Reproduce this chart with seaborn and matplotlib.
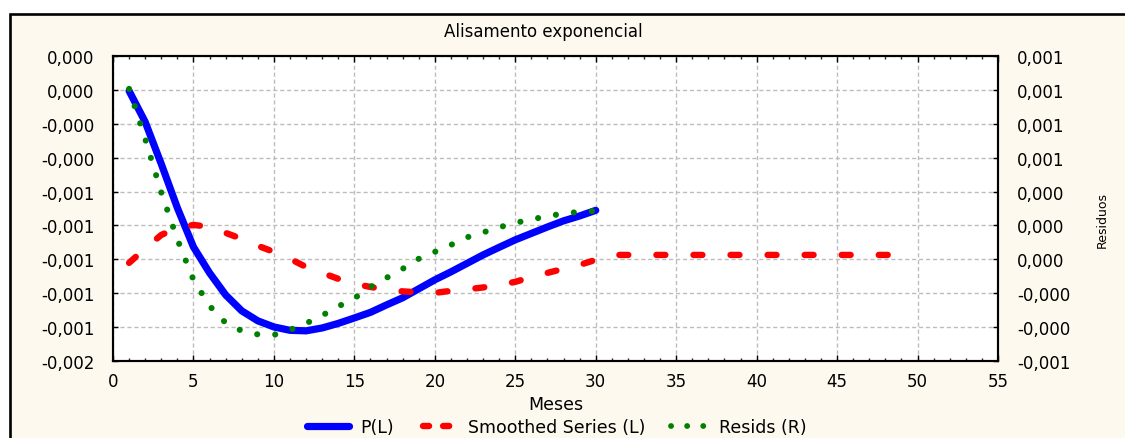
import matplotlib
matplotlib.use("Agg")
import matplotlib.pyplot as plt
import numpy as np
import pandas as pd
import seaborn as sns
from matplotlib.patches import Rectangle
from matplotlib.lines import Line2D
from matplotlib.ticker import MultipleLocator

# ---------------- data (values in units of 1e-4) ----------------
UNIT = 1e-4

months = list(range(1, 31))
p_l = [-0.06, -1.89, -4.37, -6.96, -9.27, -10.80, -12.10, -13.04, -13.63, -13.99,
       -14.19, -14.22, -14.05, -13.78, -13.46, -13.13, -12.69, -12.27, -11.74, -11.21,
       -10.74, -10.24, -9.74, -9.29, -8.85, -8.47, -8.09, -7.73, -7.44, -7.11]

smooth_months = list(range(1, 50))
smoothed = [-10.21, -9.35, -8.56, -8.14, -7.97, -8.08, -8.44, -8.79, -9.20, -9.56,
            -9.97, -10.45, -10.80, -11.15, -11.45, -11.63, -11.80, -11.89, -11.95, -11.98,
            -11.86, -11.77, -11.66, -11.51, -11.33, -11.04, -10.80, -10.56, -10.33, -10.03,
            -9.74, -9.74, -9.74, -9.74, -9.74, -9.74, -9.74, -9.74, -9.74, -9.74,
            -9.74, -9.74, -9.74, -9.74, -9.74, -9.74, -9.74, -9.74, -9.74]

resid_months = list(range(1, 31))
resids = [10.06, 7.11, 3.95, 1.18, -1.21, -2.75, -3.75, -4.22, -4.43, -4.46,
          -4.16, -3.78, -3.31, -2.78, -2.30, -1.63, -1.09, -0.56, 0.03, 0.44,
          0.85, 1.30, 1.59, 1.89, 2.15, 2.36, 2.54, 2.71, 2.80, 2.86]

title = "Alisamento exponencial"
x_label = "Meses"
right_label = "Residuos"
series_labels = ["P(L)", "Smoothed Series (L)", "Resids (R)"]

x_ticks = [0, 5, 10, 15, 20, 25, 30, 35, 40, 45, 50, 55]
left_ticks = [0.0002, 0.0, -0.0002, -0.0004, -0.0006, -0.0008, -0.0010, -0.0012, -0.0014, -0.0016]
left_tick_labels = ["0,000", "0,000", "-0,000", "-0,000", "-0,001", "-0,001", "-0,001", "-0,001", "-0,001", "-0,002"]
right_ticks = [0.0012, 0.0010, 0.0008, 0.0006, 0.0004, 0.0002, 0.0, -0.0002, -0.0004, -0.0006]
right_tick_labels = ["0,001", "0,001", "0,001", "0,001", "0,000", "0,000", "0,000", "-0,000", "-0,000", "-0,001"]

df_p = pd.DataFrame({"Mes": months, "valor": np.array(p_l) * UNIT})
df_s = pd.DataFrame({"Mes": smooth_months, "valor": np.array(smoothed) * UNIT})
df_r = pd.DataFrame({"Mes": resid_months, "valor": np.array(resids) * UNIT})

# ---------------- styling ----------------
sns.set_style("white")
plt.rcParams["font.family"] = ["DejaVu Sans"]
plt.rcParams["text.color"] = "black"
plt.rcParams["axes.labelcolor"] = "black"

W, H = 1125, 439
BLUE, RED, GREEN = "#0000FF", "#FF0000", "#008000"
CREAM = "#FEF9EE"

fig = plt.figure(figsize=(W / 100, H / 100), dpi=100)
fig.patch.set_facecolor("white")
top_frame = 1 - 15 / H
fig.add_artist(Rectangle((10 / W, -0.2), 1.2, top_frame + 0.2, transform=fig.transFigure,
                         facecolor=CREAM, edgecolor="black", linewidth=1.9, zorder=-5))

ax = fig.add_axes([113 / W, 1 - 362 / H, (998 - 113) / W, 305 / H])
ax.set_facecolor("white")
ax2 = ax.twinx()

# lines
sns.lineplot(data=df_p, x="Mes", y="valor", ax=ax, color=BLUE, linewidth=5.2, legend=False)
l_blue = ax.lines[-1]
l_blue.set_solid_capstyle("round")
l_blue.set_solid_joinstyle("round")

sns.lineplot(data=df_s, x="Mes", y="valor", ax=ax, color=RED, linewidth=4.6, legend=False)
l_red = ax.lines[-1]
l_red.set_linestyle((0, (1.4, 4.4)))
l_red.set_dash_capstyle("round")

sns.lineplot(data=df_r, x="Mes", y="valor", ax=ax2, color=GREEN, linewidth=4.4, legend=False)
l_green = ax2.lines[-1]
l_green.set_linestyle((0, (0.01, 2.95)))
l_green.set_dash_capstyle("round")

# axes limits / ticks
ax.set_xlim(0, 55)
ax.set_ylim(-0.0016, 0.0002)
ax2.set_ylim(-0.0006, 0.0012)

ax.set_xticks(x_ticks, [str(t) for t in x_ticks])
ax.xaxis.set_minor_locator(MultipleLocator(1))
ax.set_yticks(left_ticks, left_tick_labels)
ax2.set_yticks(right_ticks, right_tick_labels)

ax.tick_params(axis="x", which="major", direction="in", length=4, width=1, top=True, bottom=True,
               labelsize=12, pad=8, colors="black")
ax.tick_params(axis="x", which="minor", direction="in", length=2.5, width=1, top=True, bottom=True)
ax.tick_params(axis="y", which="major", direction="in", length=3.5, width=1, left=True, right=False,
               labelsize=12, pad=13.5, colors="black")
ax2.tick_params(axis="y", which="major", direction="in", length=3.5, width=1, right=True, left=False,
                labelsize=12, pad=13.5, colors="black")

ax.grid(True, which="major", color="#BDBDBD", linestyle=(0, (3, 2)), linewidth=1.0)
ax2.grid(False)

for a in (ax, ax2):
    for s in a.spines.values():
        s.set_visible(True)
        s.set_color("black")
        s.set_linewidth(1.5)

ax.set_xlabel("")
ax.set_ylabel("")
ax2.set_xlabel("")
ax2.set_ylabel(right_label, fontsize=9, color="black")
ax2.yaxis.set_label_coords(1.1175, 0.4656)
ax2.yaxis.label.set_verticalalignment("center")

# title and x label
fig.text(543 / W, 1 - 36.7 / H, title, ha="center", va="baseline", fontsize=12)
fig.text(556 / W, 1 - 410 / H, x_label, ha="center", va="baseline", fontsize=12.5)

# legend
h_blue = Line2D([], [], color=BLUE, linewidth=5.2, solid_capstyle="round")
h_red = Line2D([], [], color=RED, linewidth=4.6, linestyle=(1.9, (0.95, 2.2)), dash_capstyle="round")
h_green = Line2D([], [], color=GREEN, linewidth=4.2, linestyle=(1.9, (0.01, 2.75)), dash_capstyle="round")
fig.legend([h_blue, h_red, h_green], series_labels, loc="center",
           bbox_to_anchor=(557 / W, 1 - 428 / H), ncol=3, frameon=False, fontsize=12.5,
           handlelength=2.4, handletextpad=0.65, columnspacing=1.2, borderpad=0, borderaxespad=0)

fig.savefig("out.png", dpi=100, facecolor=fig.get_facecolor())
